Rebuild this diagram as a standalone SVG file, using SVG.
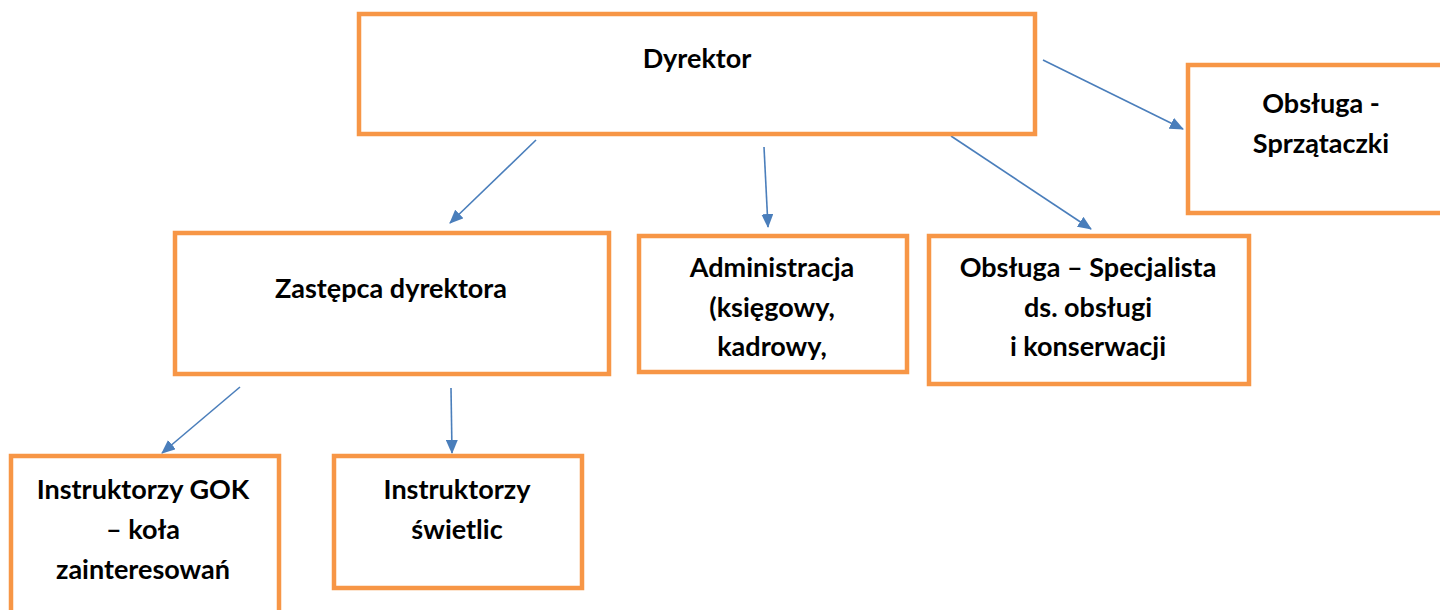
<svg xmlns="http://www.w3.org/2000/svg" width="1440" height="610" viewBox="0 0 1440 610">
<style>
.box{fill:#fff;stroke:#F79646;stroke-width:4.5}
.t{font-family:Lato,"Liberation Sans",sans-serif;font-weight:bold;font-size:27px;fill:#000;text-anchor:middle}
.c{stroke:#4A7EBB;stroke-width:1.6;fill:none;marker-end:url(#ah)}
</style>
<defs>
<marker id="ah" markerWidth="14" markerHeight="12" refX="13" refY="6" orient="auto" markerUnits="userSpaceOnUse">
<path d="M0,0 L14,6 L0,12 Z" fill="#4A7EBB"/>
</marker>
</defs>
<rect width="1440" height="610" fill="#fff"/>
<g id="connectors">
<line class="c" x1="536" y1="140" x2="450" y2="223"/>
<line class="c" x1="764" y1="147" x2="768" y2="227"/>
<line class="c" x1="951" y1="136" x2="1091" y2="229"/>
<line class="c" x1="1043" y1="60" x2="1183" y2="129"/>
<line class="c" x1="240" y1="387" x2="162" y2="453"/>
<line class="c" x1="451" y1="388" x2="452" y2="453"/>
</g>
<g id="dyrektor">
<rect class="box" x="359" y="14" width="676" height="120"/>
<text class="t" x="697" y="68">Dyrektor</text>
</g>
<g id="sprzataczki">
<rect class="box" x="1188" y="65" width="260" height="148"/>
<text class="t" x="1321" y="113">Obsługa -</text>
<text class="t" x="1321" y="153">Sprzątaczki</text>
</g>
<g id="zastepca">
<rect class="box" x="175" y="233" width="434" height="141"/>
<text class="t" x="391" y="298">Zastępca dyrektora</text>
</g>
<g id="administracja">
<rect class="box" x="639" y="236" width="268" height="136"/>
<text class="t" x="772" y="277">Administracja</text>
<text class="t" x="772" y="317">(księgowy,</text>
<text class="t" x="772" y="356">kadrowy,</text>
</g>
<g id="specjalista">
<rect class="box" x="929" y="236" width="320" height="148"/>
<text class="t" x="1088" y="277">Obsługa – Specjalista</text>
<text class="t" x="1088" y="317">ds. obsługi</text>
<text class="t" x="1088" y="356">i konserwacji</text>
</g>
<g id="instruktorzy-gok">
<rect class="box" x="11" y="456" width="268" height="170"/>
<text class="t" x="143" y="499">Instruktorzy GOK</text>
<text class="t" x="143" y="539">– koła</text>
<text class="t" x="143" y="579">zainteresowań</text>
</g>
<g id="instruktorzy-swietlic">
<rect class="box" x="334" y="456" width="248" height="132"/>
<text class="t" x="457" y="499">Instruktorzy</text>
<text class="t" x="457" y="539">świetlic</text>
</g>
</svg>
